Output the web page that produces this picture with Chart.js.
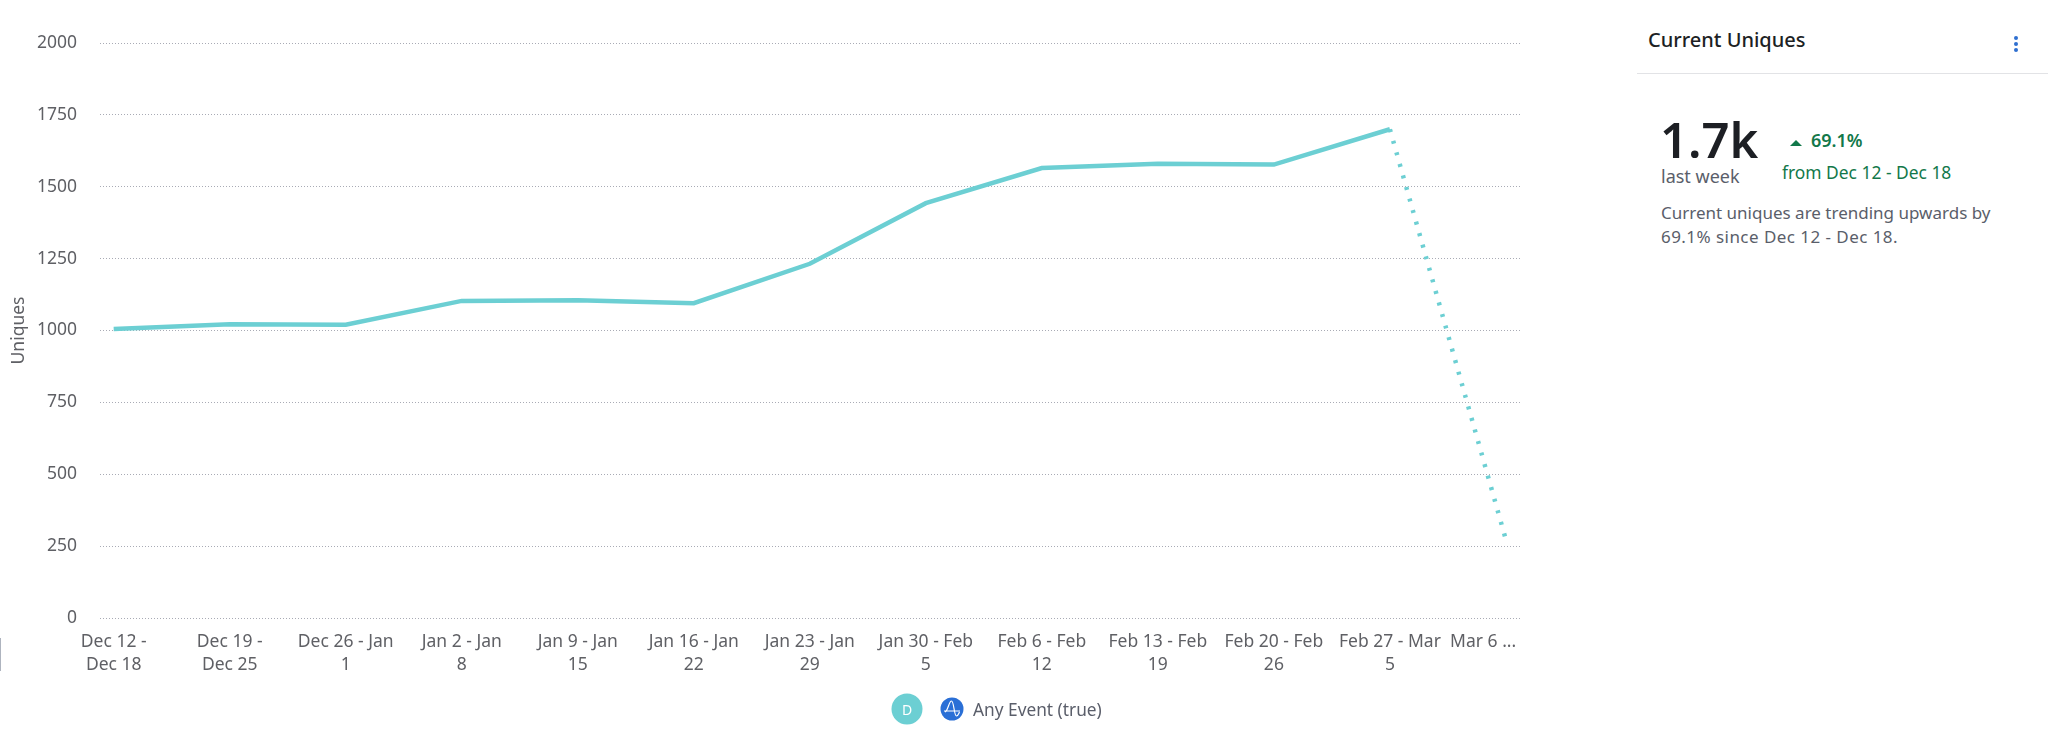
<!DOCTYPE html>
<html>
<head>
<meta charset="utf-8">
<title>Current Uniques</title>
<script src="https://cdn.jsdelivr.net/npm/chart.js@4/dist/chart.umd.min.js"></script>
<style>
  html, body { margin: 0; padding: 0; background: #fff; }
  body { width: 2048px; height: 741px; position: relative; overflow: hidden; font-family: "Noto Sans", sans-serif; }
  #chart-wrap { position: absolute; left: 0; top: 0; width: 1600px; height: 741px; }
  .abs { position: absolute; white-space: nowrap; line-height: 1; }
  .edge-mark { position: absolute; left: 0; top: 638px; width: 1px; height: 33px; background: #aeb4bf; }
  .divider { position: absolute; left: 1637px; top: 73px; width: 411px; height: 1px; background: #e2e3e6; }
  .dot { position: absolute; left: 2014px; width: 4px; height: 4px; border-radius: 50%; background: #2f6fd0; }
  .green { color: #12784a; }
  .grey { color: #5a5e6a; }
</style>
</head>
<body>
<div id="chart-wrap"><canvas id="chart-uniques"></canvas></div>
<div class="edge-mark"></div>

<!-- legend -->
<svg class="abs" style="left:891px;top:693px" width="32" height="32">
  <circle cx="16" cy="16" r="15.5" fill="#6ccfd3"/>
  <text x="16" y="21.5" text-anchor="middle" font-family="Noto Sans" font-size="14" fill="#fff">D</text>
</svg>
<svg class="abs" style="left:940px;top:697px" width="24" height="24">
  <circle cx="12" cy="12" r="11.5" fill="#2a6fd6"/>
  <path d="M4 14 H20 M5 15 C8 14 9 4 11.5 4 C14 4 14 19 16.5 19 C18 19 18.5 17 19.5 15" fill="none" stroke="#fff" stroke-width="1.2"/>
</svg>
<div class="abs grey" style="left:973px;top:701px;font-size:17.3px">Any Event (true)</div>

<!-- side panel -->
<div class="abs" style="left:1648px;top:30px;font-size:20px;font-weight:500;color:#1d1f24">Current Uniques</div>
<div class="dot" style="top:36px"></div>
<div class="dot" style="top:42px"></div>
<div class="dot" style="top:48px"></div>
<div class="divider"></div>

<div class="abs" style="left:1660px;top:115px;font-size:49px;font-weight:600;color:#1d1f24">1.7k</div>
<div class="abs grey" style="left:1661px;top:167px;font-size:18px">last week</div>
<svg class="abs" style="left:1789px;top:139px" width="14" height="8"><path d="M1 7 L7 1 L13 7 Z" fill="#12784a"/></svg>
<div class="abs green" style="left:1811px;top:131px;font-size:18px;font-weight:600">69.1%</div>
<div class="abs green" style="left:1782px;top:164px;font-size:17.4px">from Dec 12 - Dec 18</div>
<div class="abs grey" style="left:1661px;top:204px;font-size:17px">Current uniques are trending upwards by</div>
<div class="abs grey" style="left:1661px;top:228px;font-size:17px;letter-spacing:.45px">69.1% since Dec 12 - Dec 18.</div>

<script>
const weekLabels = [
  ['Dec 12 -', 'Dec 18'], ['Dec 19 -', 'Dec 25'], ['Dec 26 - Jan', '1'], ['Jan 2 - Jan', '8'],
  ['Jan 9 - Jan', '15'], ['Jan 16 - Jan', '22'], ['Jan 23 - Jan', '29'], ['Jan 30 - Feb', '5'],
  ['Feb 6 - Feb', '12'], ['Feb 13 - Feb', '19'], ['Feb 20 - Feb', '26'], ['Feb 27 - Mar', '5'],
  // trailing nbsp pulls the last label back inside the plot, like the original
  ['Mar 6 ...\u00a0\u00a0\u00a0\u00a0\u00a0\u00a0\u00a0\u00a0\u00a0\u00a0']
];
const uniques = [1005, 1022, 1020, 1103, 1105, 1095, 1232, 1443, 1565, 1580, 1577, 1700, 272];

const lineColor = '#6ccfd3';
const tickFont = { family: '"Noto Sans", sans-serif', size: 17.5, lineHeight: 1.3 };

new Chart(document.getElementById('chart-uniques'), {
  type: 'line',
  data: {
    datasets: [{
      label: 'Any Event (true)',
      data: uniques.map((v, i) => ({ x: i, y: v })),
      borderColor: lineColor,
      borderWidth: 4.5,
      pointRadius: 0,
      tension: 0,
      // last week is incomplete, so it is dotted
      segment: {
        borderDash: ctx => ctx.p0DataIndex === uniques.length - 2 ? [3, 9] : undefined
      }
    }]
  },
  options: {
    responsive: true,
    maintainAspectRatio: false,
    animation: false,
    layout: { padding: { top: 43, right: 79, left: 0, bottom: 0 } },
    plugins: { legend: { display: false }, tooltip: { enabled: false } },
    scales: {
      x: {
        type: 'linear',
        min: -0.118,
        max: 12.13,
        afterBuildTicks: scale => { scale.ticks = weekLabels.map((l, i) => ({ value: i })); },
        afterFit: scale => { scale.height = 123; },
        grid: { display: false },
        border: { display: false },
        ticks: {
          autoSkip: false,
          maxRotation: 0,
          minRotation: 0,
          padding: 5,
          color: '#5f6065',
          font: tickFont,
          callback: v => weekLabels[v]
        }
      },
      y: {
        min: 0,
        max: 2000,
        afterFit: scale => { scale.width = 100; },
        grid: { color: '#a9abb5', lineWidth: 1, drawTicks: false },
        border: { display: false, dash: [1, 2] },
        ticks: { stepSize: 250, padding: 23, color: '#5f6065', font: tickFont, callback: v => String(v) },
        title: { display: true, text: 'Uniques', color: '#5f6065', font: tickFont, padding: { top: 8, bottom: 0 } }
      }
    }
  }
});
</script>
</body>
</html>
